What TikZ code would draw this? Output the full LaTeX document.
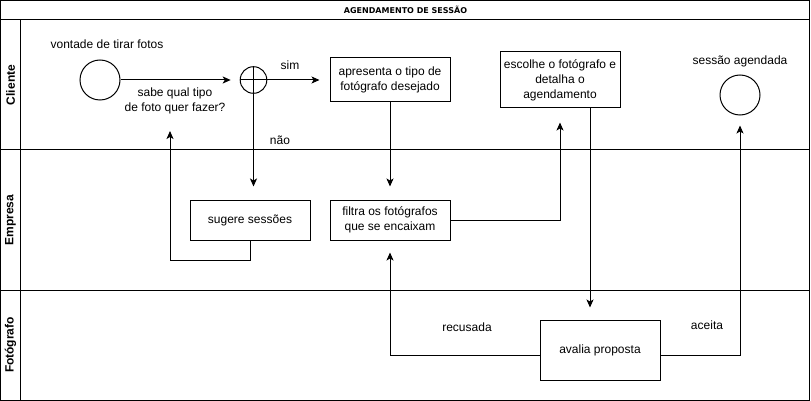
\documentclass[tikz,border=0pt]{standalone}
\usepackage{fontspec}
\setmainfont{Liberation Sans}
\newfontfamily\titlefont{DejaVu Sans}
\usetikzlibrary{arrows.meta}
\begin{document}
\begin{tikzpicture}[x=1pt,y=-1pt,
  every node/.style={font=\fontsize{12}{15}\selectfont},
  lane/.style={draw,line width=1pt},
  task/.style={draw,line width=1pt,minimum width=120pt,align=center,inner sep=0pt},
  ev/.style={draw,circle,line width=1pt,minimum size=40pt,inner sep=0pt},
  flow/.style={line width=1pt,-{Stealth[length=8pt,width=7pt,inset=2pt]}},
  plain/.style={line width=1pt},
  lanelbl/.style={rotate=90,font=\bfseries\fontsize{12}{14}\selectfont},
  txt/.style={align=center,inner sep=0pt}]
\useasboundingbox (0,0) rectangle (811,401);
% pool
\draw[lane] (0.5,0.5) rectangle (809.5,400);
\draw[lane] (0.5,20) -- (809.5,20);
\draw[lane] (20.5,20) -- (20.5,400);
\draw[lane] (0.5,150) -- (809.5,150);
\draw[lane] (0.5,290) -- (809.5,290);
\node[font=\titlefont\bfseries\fontsize{8}{10}\selectfont] (title) at (405.5,10) {AGENDAMENTO DE SESSÃO};
\node[lanelbl] (l1) at (10.5,85) {Cliente};
\node[lanelbl] (l2) at (10.5,220) {Empresa};
\node[lanelbl] (l3) at (10.5,345) {Fotógrafo};
% nodes
\node[ev] (start) at (100,80) {};
\node[txt] (startlbl) at (107,44) {vontade de tirar fotos};
\node[draw,circle,line width=1pt,minimum size=26.6pt,inner sep=0pt] (gw) at (253.5,80) {};
\draw[plain] (gw.north) -- (gw.south) (gw.west) -- (gw.east);
\node[txt] (q) at (175,101) {sabe qual tipo\\de foto quer fazer?};
\node[task,minimum height=44pt] (apr) at (390,80) {apresenta o tipo de\\fotógrafo desejado};
\node[task,minimum height=56pt] (esc) at (560,80) {escolhe o fotógrafo e\\detalha o\\agendamento};
\node[ev] (end) at (740,95) {};
\node[txt] (endlbl) at (740,61) {sessão agendada};
\node[task,minimum height=40pt] (sug) at (250,220) {sugere sessões};
\node[task,minimum height=40pt] (fil) at (390,220) {filtra os fotógrafos\\que se encaixam};
\node[task,minimum height=60pt,minimum width=120pt] (ava) at (600,350) {avalia proposta};
% labels
\node[txt] (sim) at (290,65) {sim};
\node[txt] (nao) at (280,140) {não};
\node[txt] (rec) at (467,327) {recusada};
\node[txt] (ace) at (707,325) {aceita};
% connectors
\coordinate (qpt) at (170,131);
\draw[flow,shorten >=9pt] (start) -- (gw);
\draw[flow,shorten >=10pt] (gw.east) -- (apr.west);
\draw[flow,shorten >=13pt] (gw.south) -- (gw.south |- sug.north);
\draw[flow,shorten >=13pt] (apr.south) -- (fil.north);
\draw[flow] (sug.south) -- ++(0,20) -| (qpt);
\draw[flow,shorten >=14pt] (fil.east) -| (esc.south);
\draw[flow,shorten >=12pt] ([xshift=30pt]esc.south) -- ([xshift=30pt]esc.south |- ava.north);
\draw[flow,shorten >=12pt] ([yshift=-5pt]ava.west) -| (fil.south);
\draw[flow,shorten >=10pt] ([yshift=-5pt]ava.east) -| (end.south);
\end{tikzpicture}
\end{document}
